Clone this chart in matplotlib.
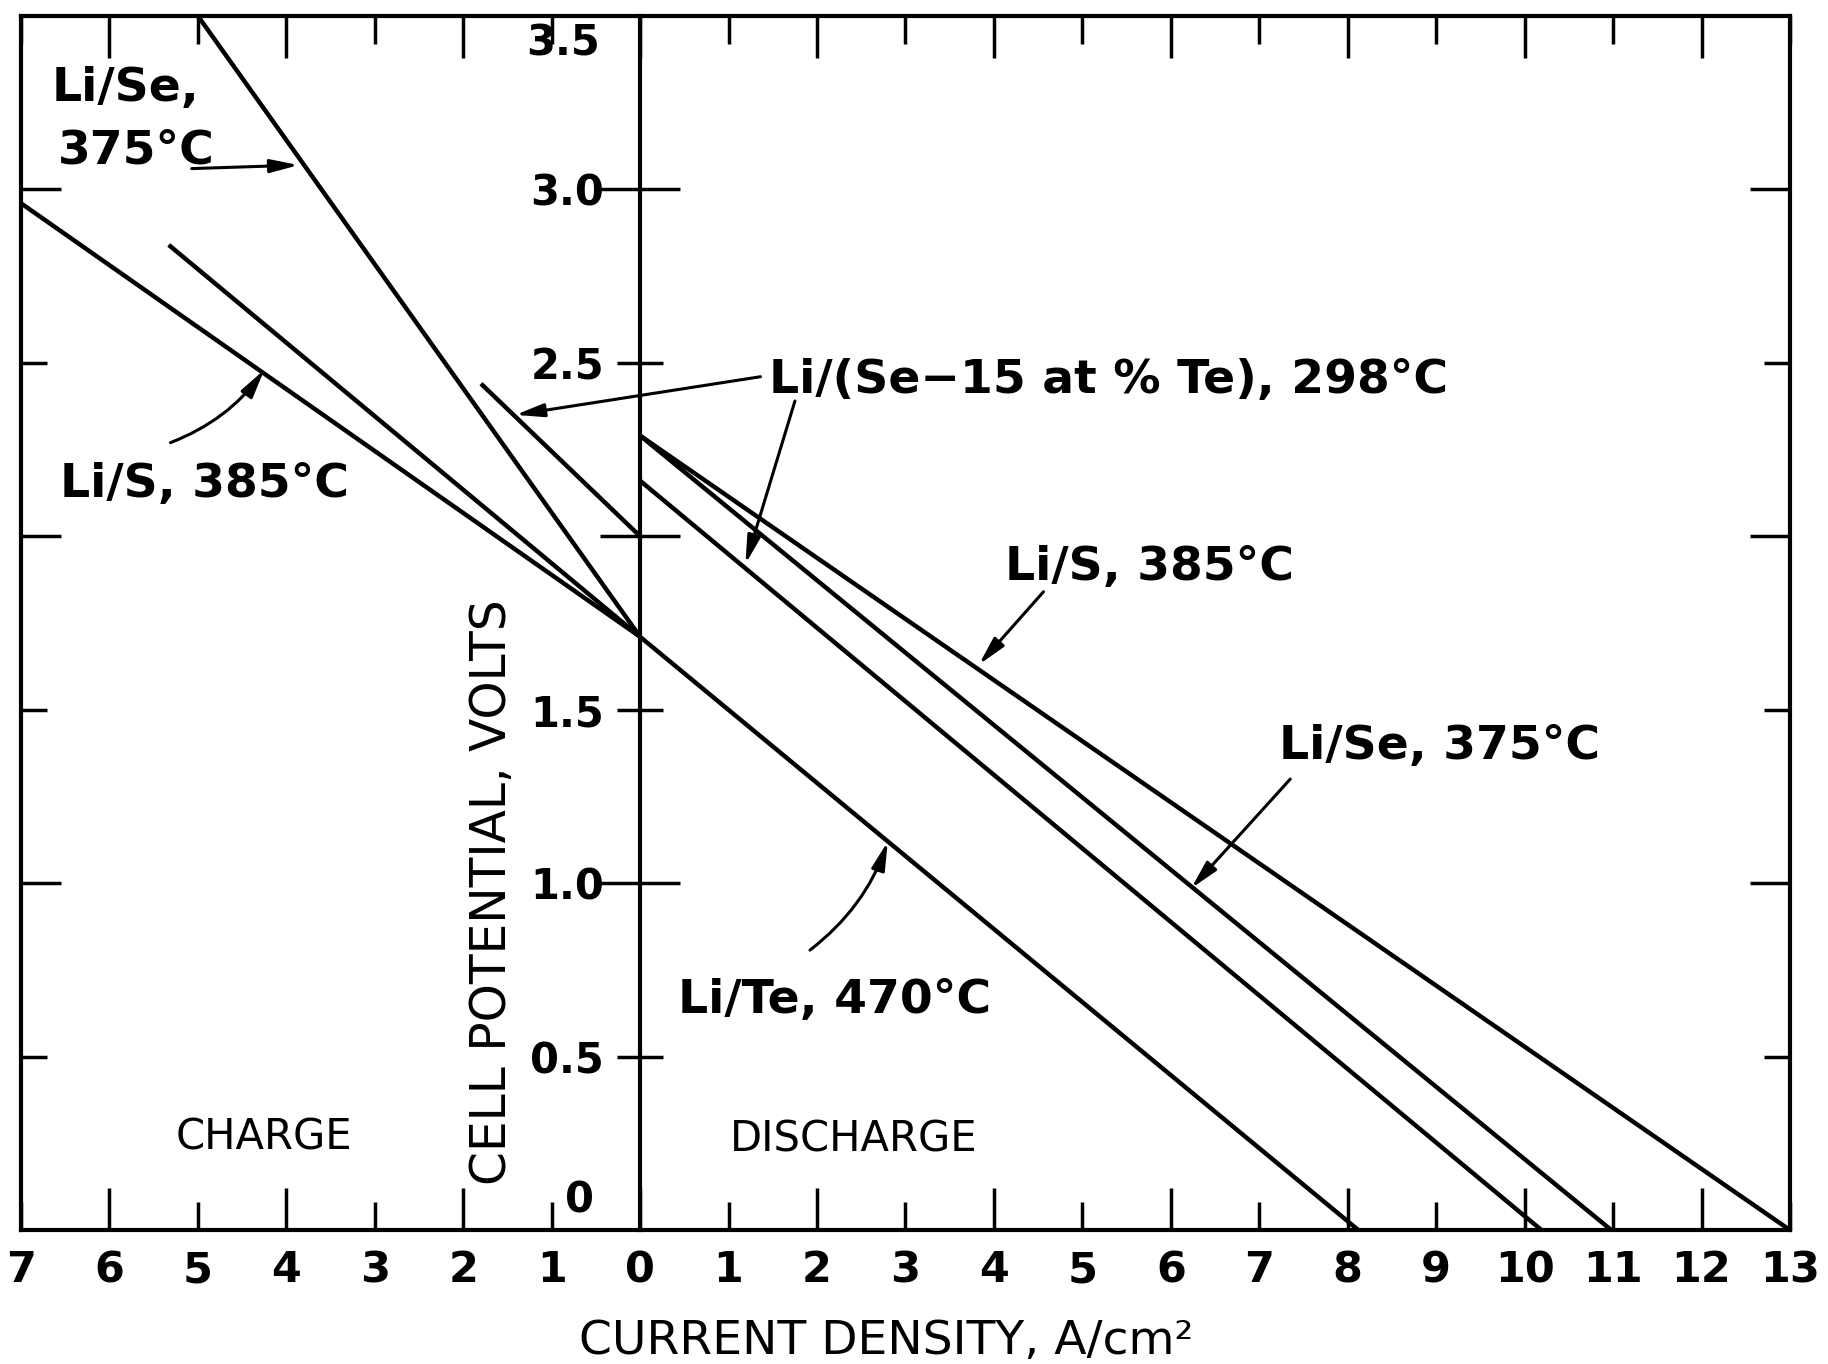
import matplotlib.pyplot as plt
from matplotlib.ticker import FixedLocator, FuncFormatter

# current density in A/cm2 (negative side = charge), cell potential in volts
li_s_charge_x = [-7.0, 0.0]
li_s_charge_v = [2.96, 1.71]
li_te_charge_x = [-5.33, 0.0]
li_te_charge_v = [2.84, 1.71]
li_se_charge_x = [-5.0, 0.0]
li_se_charge_v = [3.50, 1.71]
li_sete_charge_x = [-1.80, 0.0]
li_sete_charge_v = [2.44, 2.00]

li_s_dis_x = [0.0, 13.0]
li_s_dis_v = [2.29, 0.0]
li_se_dis_x = [0.0, 10.98]
li_se_dis_v = [2.29, 0.0]
li_sete_dis_x = [0.0, 10.19]
li_sete_dis_v = [2.16, 0.0]
li_te_dis_x = [0.0, 8.12]
li_te_dis_v = [1.71, 0.0]

x_long_ticks = [-6, -4, -2, 0, 2, 4, 6, 8, 10, 12]
x_short_ticks = [-7, -5, -3, -1, 1, 3, 5, 7, 9, 11, 13]
v_long_ticks = [1.0, 2.0, 3.0]
v_short_ticks = [0.5, 1.5, 2.5]
v_long_labels = ['1.0', '', '3.0']
v_short_labels = ['0.5', '1.5', '2.5']

fig = plt.figure(figsize=(18.28, 13.64), dpi=100)
ax = fig.add_axes([0.0115, 0.0982, 0.9677, 0.8901])
ax.set_xlim(-7, 13)
ax.set_ylim(0, 3.5)

lw = 3.2
for xs, vs in [(li_s_charge_x, li_s_charge_v), (li_te_charge_x, li_te_charge_v),
               (li_se_charge_x, li_se_charge_v), (li_sete_charge_x, li_sete_charge_v),
               (li_s_dis_x, li_s_dis_v), (li_se_dis_x, li_se_dis_v),
               (li_sete_dis_x, li_sete_dis_v), (li_te_dis_x, li_te_dis_v)]:
    ax.plot(xs, vs, color='black', lw=lw, solid_capstyle='butt')

# frame
for s in ax.spines.values():
    s.set_linewidth(3)
ax.xaxis.set_major_locator(FixedLocator(x_long_ticks))
ax.xaxis.set_minor_locator(FixedLocator(x_short_ticks))
fmt = FuncFormatter(lambda v, p: f"{abs(v):.0f}")
ax.xaxis.set_major_formatter(fmt)
ax.xaxis.set_minor_formatter(fmt)
ax.tick_params(axis='x', which='major', direction='in', top=True, length=30, width=2.5,
               labelsize=31, pad=14)
ax.tick_params(axis='x', which='minor', direction='in', top=True, length=20, width=2.5,
               labelsize=31, pad=14)
for lab in ax.get_xticklabels(which='both'):
    lab.set_fontweight('bold')

ax.yaxis.set_major_locator(FixedLocator(v_long_ticks))
ax.yaxis.set_minor_locator(FixedLocator(v_short_ticks))
ax.tick_params(axis='y', which='major', direction='in', right=True, length=29, width=2.5,
               labelleft=False)
ax.tick_params(axis='y', which='minor', direction='in', right=True, length=19, width=2.5,
               labelleft=False)

# the potential axis at zero current
sec = ax.secondary_yaxis(0.35)
sec.spines['left'].set_linewidth(3)
sec.set_ticks(v_long_ticks, labels=v_long_labels)
sec.set_ticks(v_short_ticks, labels=v_short_labels, minor=True)
sec.tick_params(which='major', direction='inout', length=58, width=2.5, pad=-3, labelsize=30)
sec.tick_params(which='minor', direction='inout', length=33, width=2.5, pad=9.5, labelsize=30)
for lab in sec.get_yticklabels(which='both'):
    lab.set_fontweight('bold')
ax.text(-0.45, 3.42, '3.5', ha='right', va='center', fontsize=30, fontweight='bold')
ax.text(-0.69, 0.085, '0', ha='center', va='center', fontsize=30, fontweight='bold')

ax.set_xlabel('CURRENT DENSITY, A/cm²', fontsize=34, va='center')
ax.xaxis.set_label_coords(0.489, -0.0914)
ax.text(-1.67, 0.975, 'CELL POTENTIAL, VOLTS', rotation=90, ha='center', va='center',
        fontsize=35)
ax.text(-4.25, 0.268, 'CHARGE', ha='center', va='center', fontsize=30)
ax.text(2.41, 0.262, 'DISCHARGE', ha='center', va='center', fontsize=30)

# curve labels
tkw = dict(ha='left', va='center', fontsize=34, fontweight='bold')
ax.text(-6.65, 3.29, 'Li/Se,', **tkw)
ax.text(-6.58, 3.11, '375°C', **tkw)
ax.text(-6.56, 2.15, 'Li/S, 385°C', **tkw)
ax.text(1.46, 2.45, 'Li/(Se−15 at % Te), 298°C', **tkw)
ax.text(4.12, 1.91, 'Li/S, 385°C', **tkw)
ax.text(7.22, 1.395, 'Li/Se, 375°C', **tkw)
ax.text(0.43, 0.663, 'Li/Te, 470°C', **tkw)

arrows = [((-5.07, 3.06), (-3.86, 3.07), 0.0),
          ((-5.31, 2.27), (-4.25, 2.48), 0.15),
          ((1.36, 2.46), (-1.41, 2.35), 0.0),
          ((1.75, 2.39), (1.19, 1.92), 0.0),
          ((4.56, 1.84), (3.83, 1.63), 0.0),
          ((7.35, 1.30), (6.23, 0.985), 0.0),
          ((1.92, 0.807), (2.80, 1.12), 0.15)]
for tail, tip, rad in arrows:
    ax.annotate('', xy=tip, xytext=tail,
                arrowprops=dict(arrowstyle='-|>,head_length=1.7,head_width=0.4',
                                color='black', lw=2.2, shrinkA=0, shrinkB=0,
                                connectionstyle=f'arc3,rad={rad}'))

fig.savefig('out.png', dpi=100)
